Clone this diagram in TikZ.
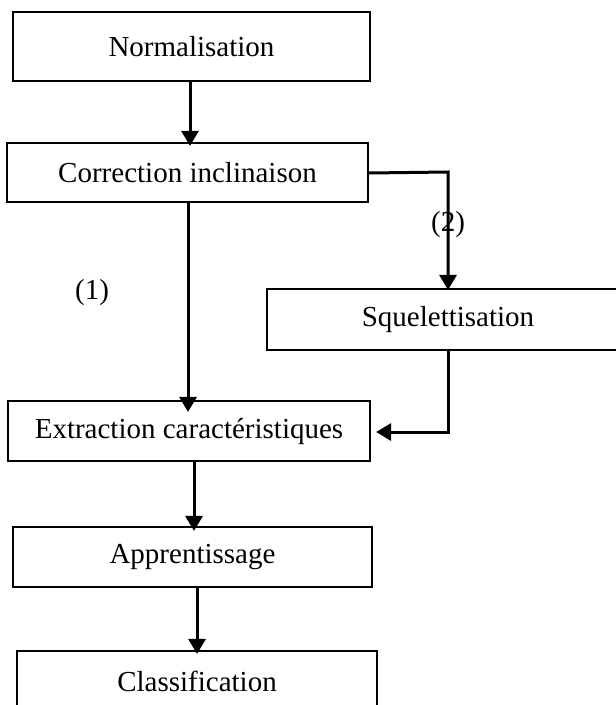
\documentclass[tikz,border=0pt]{standalone}
\usepackage{fontspec}
\setmainfont{Liberation Serif}
\usetikzlibrary{arrows.meta}
\begin{document}
\begin{tikzpicture}[x=1pt,y=-1pt,
  stage/.style={draw, line width=2.1pt, inner sep=0pt, anchor=center,
    font=\fontsize{29}{34}\selectfont},
  flow/.style={line width=3pt, -{Triangle[width=17pt,length=15pt]}},
  tag/.style={font=\fontsize{29}{34}\selectfont, inner sep=0pt}]
  \clip (0,0) rectangle (616,705);
  \fill[white] (0,0) rectangle (616,705);

  % processing stages
  \node[stage, minimum width=357pt, minimum height=69pt] (norm) at (191.5,46.5) {Normalisation};
  \node[stage, minimum width=361pt, minimum height=59pt] (corr) at (187.5,172.5) {Correction inclinaison};
  \node[stage, minimum width=362pt, minimum height=61pt] (sque) at (448,319.5) {Squelettisation};
  \node[stage, minimum width=362pt, minimum height=60pt] (extr) at (189,431) {Extraction caractéristiques};
  \node[stage, minimum width=359pt, minimum height=60pt] (appr) at (192.5,557) {Apprentissage};
  \node[stage, minimum width=360pt, minimum height=60pt] (clas) at (197,681) {Classification};

  % branch labels
  \node[tag] (b1) at (92,293) {(1)};
  \node[tag] (b2) at (448,225) {(2)};

  % main chain
  \draw[flow, shorten >=-4pt] ([xshift=-1.5pt]norm.south) -- ([xshift=2.5pt]corr.north);
  \draw[flow, shorten >=-12pt] ([xshift=0.5pt]corr.south) -- ([xshift=-1pt]extr.north);
  \draw[flow, shorten >=-5pt] ([xshift=5pt]extr.south) -- ([xshift=1.5pt]appr.north);
  \draw[flow, shorten >=-4pt] ([xshift=4.5pt]appr.south) -- (clas.north);

  % branch through skeletonisation
  \coordinate (turn1) at (448,172);
  \coordinate (turn2) at (448,432);
  \draw[flow, shorten >=-2pt] ([yshift=-0.5pt]corr.east) -- (turn1) -- (sque.north);
  \draw[flow, shorten >=5pt] (sque.south) -- (turn2) -- (extr.east |- turn2);
\end{tikzpicture}
\end{document}
